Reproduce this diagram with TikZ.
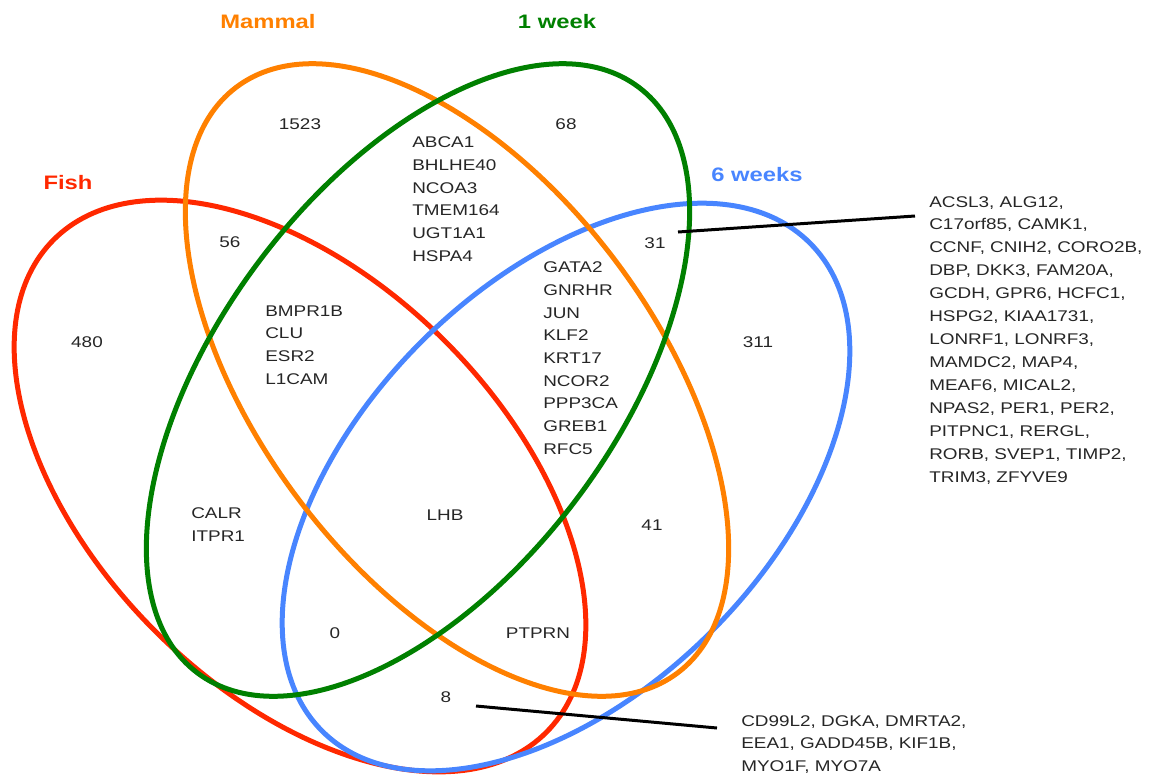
\documentclass[tikz,border=0pt]{standalone}
\usepackage{fontspec}
\setmainfont{Liberation Sans}[FakeStretch=1.22]
\usetikzlibrary{positioning}
\definecolor{fishred}{RGB}{255,40,0}
\definecolor{mammalorange}{RGB}{255,128,0}
\definecolor{weekgreen}{RGB}{0,128,0}
\definecolor{weeksblue}{RGB}{72,133,255}

\begin{document}
\begin{tikzpicture}[x=0.6pt, y=-0.6pt,
    every node/.style={font=\fontsize{9.3}{13.6}\selectfont, text=black!85, inner sep=0pt},
    set/.style={line width=3pt},
    title/.style={font=\fontsize{11.7}{14}\selectfont\bfseries},
    genes/.style={align=left, anchor=base west},
    leader/.style={line width=1.8pt, black},
]
    \useasboundingbox (0,0) rectangle (1151,780);

    % the four sets
    \draw[set, fishred, rotate around={-45:(300,486)}] (300,486) ellipse [x radius=209pt, y radius=123pt];
    \draw[set, weeksblue, rotate around={45:(566,487)}] (566,487) ellipse [x radius=207pt, y radius=123pt];
    \draw[set, mammalorange, rotate around={-53:(457,380)}] (457,380) ellipse [x radius=220pt, y radius=119pt];
    \draw[set, weekgreen, rotate around={53:(418,380)}] (418,380) ellipse [x radius=220pt, y radius=119pt];

    % set names
    \node[title, text=fishred] (fish) at (68,183) {Fish};
    \node[title, text=mammalorange] (mammal) at (268,22) {Mammal};
    \node[title, text=weekgreen] (week1) at (557,22) {1 week};
    \node[title, text=weeksblue] (weeks6) at (757,175) {6 weeks};

    % region counts
    \node (n1523) at (300,124) {1523};
    \node (n68) at (566,124) {68};
    \node (n56) at (230,242) {56};
    \node (n31) at (655,243) {31};
    \node (n480) at (87,342) {480};
    \node (n311) at (758,342) {311};
    \node (lhb) at (445,515) {LHB};
    \node (n41) at (652,525) {41};
    \node (n0) at (335,633) {0};
    \node (ptprn) at (538,633) {PTPRN};
    \node (n8) at (446,697) {8};

    % gene lists (placed at the baseline of their last line)
    \node[genes] (mw) at (412,261) {ABCA1\\BHLHE40\\NCOA3\\TMEM164\\UGT1A1\\HSPA4};
    \node[genes] (fmw) at (265,384) {BMPR1B\\CLU\\ESR2\\L1CAM};
    \node[genes] (mws) at (543,454) {GATA2\\GNRHR\\JUN\\KLF2\\KRT17\\NCOR2\\PPP3CA\\GREB1\\RFC5};
    \node[genes] (fw) at (191,541) {CALR\\ITPR1};
    % these two have a text width, so they sit on their first line
    \node[genes, text width=180pt, font=\fontsize{9.3}{13.75}\selectfont] (list31) at (929,207) {ACSL3, ALG12,\\C17orf85, CAMK1,\\CCNF, CNIH2, CORO2B,\\DBP, DKK3, FAM20A,\\GCDH, GPR6, HCFC1,\\HSPG2, KIAA1731,\\LONRF1, LONRF3,\\MAMDC2, MAP4,\\MEAF6, MICAL2,\\NPAS2, PER1, PER2,\\PITPNC1, RERGL,\\RORB, SVEP1, TIMP2,\\TRIM3, ZFYVE9};
    \node[genes, text width=180pt] (list8) at (741,726) {CD99L2, DGKA, DMRTA2,\\EEA1, GADD45B, KIF1B,\\MYO1F, MYO7A};

    % leaders
    \coordinate (a31) at (678,232);
    \coordinate (b31) at (915,216);
    \coordinate (a8) at (476,706);
    \coordinate (b8) at (717,728);
    \draw[leader] (a31) -- (b31);
    \draw[leader] (a8) -- (b8);
\end{tikzpicture}
\end{document}
